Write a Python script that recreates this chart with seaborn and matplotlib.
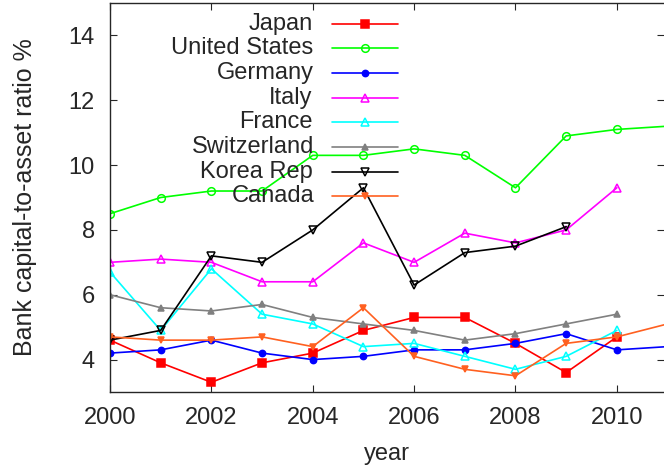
import numpy as np
import pandas as pd
import matplotlib
matplotlib.use('Agg')
import matplotlib.pyplot as plt
import seaborn as sns

# data
years = list(range(2000, 2012))
nan = np.nan
japan = [4.6, 3.9, 3.3, 3.9, 4.2, 4.9, 5.3, 5.3, 4.5, 3.6, 4.7, nan]
united_states = [8.5, 9.0, 9.2, 9.2, 10.3, 10.3, 10.5, 10.3, 9.3, 10.9, 11.1, 11.2]
germany = [4.2, 4.3, 4.6, 4.2, 4.0, 4.1, 4.3, 4.3, 4.5, 4.8, 4.3, 4.4]
italy = [7.0, 7.1, 7.0, 6.4, 6.4, 7.6, 7.0, 7.9, 7.6, 8.0, 9.3, nan]
france = [6.7, 4.9, 6.8, 5.4, 5.1, 4.4, 4.5, 4.1, 3.7, 4.1, 4.9, nan]
switzerland = [6.0, 5.6, 5.5, 5.7, 5.3, 5.1, 4.9, 4.6, 4.8, 5.1, 5.4, nan]
korea = [4.6, 4.9, 7.2, 7.0, 8.0, 9.3, 6.3, 7.3, 7.5, 8.1, nan, nan]
canada = [4.7, 4.6, 4.6, 4.7, 4.4, 5.6, 4.1, 3.7, 3.5, 4.5, 4.7, 5.1]

series = [
    ("Japan", japan, "#ff0000", "s", True, 5.5),
    ("United States", united_states, "#00ff00", "o", False, 5.5),
    ("Germany", germany, "#0000ff", "o", True, 4.5),
    ("Italy", italy, "#ff00ff", "^", False, 6),
    ("France", france, "#00ffff", "^", False, 6),
    ("Switzerland", switzerland, "#808080", "^", True, 4),
    ("Korea Rep", korea, "#000000", "v", False, 6),
    ("Canada", canada, "#ff6020", "v", True, 4),
]

sns.set_style("ticks")
plt.rcParams['font.family'] = ['Liberation Sans', 'DejaVu Sans']

W, H = 664, 473
fig = plt.figure(figsize=(W / 100, H / 100), dpi=100)
ax = fig.add_axes([110 / W, 1 - 392 / H, 1 - 110 / W, (392 - 3) / H])

for name, vals, col, mk, filled, ms in series:
    df = pd.DataFrame({"year": years, "value": vals}).dropna()
    sns.lineplot(data=df, x="year", y="value", ax=ax, color=col, marker=mk,
                 markersize=ms, markerfacecolor=col if filled else "none",
                 markeredgecolor=col, markeredgewidth=1.1, linewidth=1.2,
                 label=name)

ax.set_xlim(2000, 2010.93)
ax.set_ylim(3, 15)
ax.set_xticks(range(2000, 2011, 2))
ax.set_yticks(range(4, 15, 2))
ax.tick_params(direction='in', top=True, right=True, labelsize=17, length=5,
               width=0.8)
ax.tick_params(axis='x', pad=11)
ax.tick_params(axis='y', pad=11)
ax.spines['right'].set_visible(False)
for s in ['left', 'top', 'bottom']:
    ax.spines[s].set_linewidth(1.0)
ax.set_xlabel("year", fontsize=17, labelpad=10)
ax.set_ylabel("Bank capital-to-asset ratio %", fontsize=18, labelpad=23)

# gnuplot-style key: right-aligned names, then line samples
handles, names = ax.get_legend_handles_labels()
leg = ax.legend(handles, [''] * len(handles), loc='upper left',
                bbox_to_anchor=(332 / W, 1 - 17.5 / H),
                bbox_transform=fig.transFigure, frameon=False, fontsize=12,
                handlelength=3.95, handletextpad=0, labelspacing=0.58,
                borderpad=0, borderaxespad=0)
fig.canvas.draw()
renderer = fig.canvas.get_renderer()
for h, name in zip(leg.legend_handles, names):
    bb = h.get_window_extent(renderer)
    yc = (bb.y0 + bb.y1) / 2
    fig.text((bb.x0 - 15) / W, yc / H, name, ha='right', va='center',
             fontsize=17)

fig.savefig("out.png", dpi=100)
